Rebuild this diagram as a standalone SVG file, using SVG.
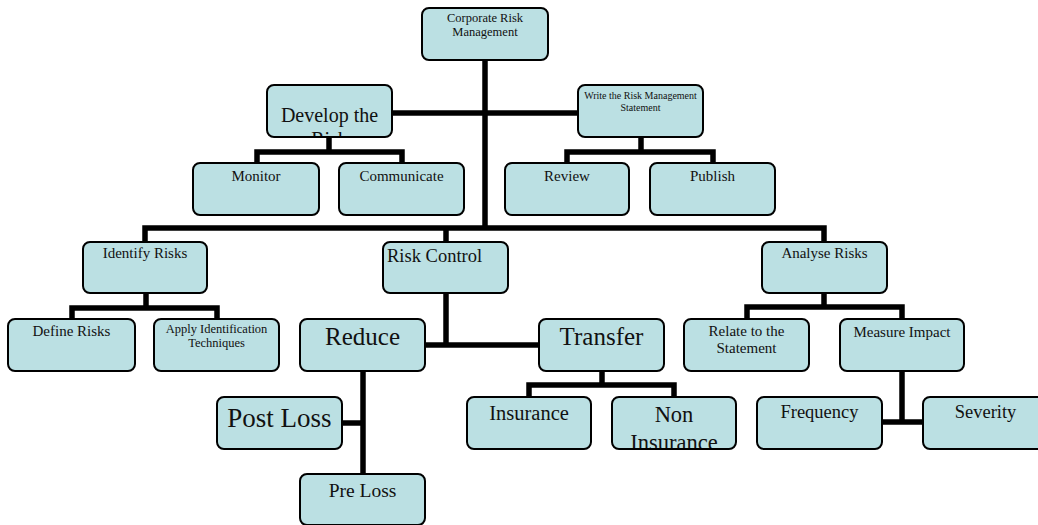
<svg xmlns="http://www.w3.org/2000/svg" width="1038" height="525" viewBox="0 0 1038 525">
<style>
.box{fill:#bbe0e3;stroke:#000;stroke-width:2}
.t{font-family:"Liberation Serif","Times New Roman",serif;fill:#111;text-anchor:middle}
.conn path{fill:none;stroke:#000;stroke-width:5.5;stroke-linejoin:miter;stroke-linecap:butt}
</style>
<defs>
<clipPath id="cDev"><rect x="268" y="86" width="123" height="50" rx="6"/></clipPath>
<clipPath id="cNon"><rect x="613" y="398" width="122" height="50" rx="6"/></clipPath>
</defs>
<g id="connectors" class="conn">
<path d="M485 60 V228"/>
<path d="M145 242 V228 H824 V242"/>
<path d="M446 228 V242"/>
<path d="M392 113 H578"/>
<path d="M329 137 V152"/>
<path d="M257 163 V152 H402 V163"/>
<path d="M641 137 V152"/>
<path d="M567 163 V152 H713 V163"/>
<path d="M146 293 V308"/>
<path d="M72 319 V308 H217 V319"/>
<path d="M824 293 V307"/>
<path d="M747 319 V307 H902 V319"/>
<path d="M446 293 V345"/>
<path d="M425 345 H539"/>
<path d="M602 371 V385"/>
<path d="M529 397 V385 H674 V397"/>
<path d="M363 371 V474"/>
<path d="M342 423 H363"/>
<path d="M902 371 V422"/>
<path d="M882 422 H923"/>
</g>
<g id="corp"><rect class="box" x="422" y="8" width="126" height="52" rx="7"/><text class="t" font-size="12.5" x="485" y="22">Corporate Risk</text><text class="t" font-size="12.5" x="485" y="36">Management</text></g>
<g id="develop"><rect class="box" x="267" y="85" width="125" height="52" rx="7"/><g clip-path="url(#cDev)"><text class="t" font-size="20" x="329.5" y="122">Develop the</text><text class="t" font-size="20" x="329.5" y="146">Risk</text></g></g>
<g id="write"><rect class="box" x="578" y="85" width="125" height="52" rx="7"/><text class="t" font-size="10" x="640.5" y="99">Write the Risk Management</text><text class="t" font-size="10" x="640.5" y="111">Statement</text></g>
<g id="monitor"><rect class="box" x="193" y="163" width="126" height="52" rx="7"/><text class="t" font-size="15" x="256" y="181">Monitor</text></g>
<g id="communicate"><rect class="box" x="339" y="163" width="125" height="52" rx="7"/><text class="t" font-size="15" x="401.5" y="181">Communicate</text></g>
<g id="review"><rect class="box" x="505" y="163" width="124" height="52" rx="7"/><text class="t" font-size="15" x="567" y="181">Review</text></g>
<g id="publish"><rect class="box" x="650" y="163" width="125" height="52" rx="7"/><text class="t" font-size="15" x="712.5" y="181">Publish</text></g>
<g id="identify"><rect class="box" x="83" y="242" width="124" height="51" rx="7"/><text class="t" font-size="15" x="145" y="258">Identify Risks</text></g>
<g id="riskcontrol"><rect class="box" x="383" y="242" width="125" height="51" rx="7"/><text class="t" font-size="18.5" x="387" y="262" text-anchor="start" style="text-anchor:start">Risk Control</text></g>
<g id="analyse"><rect class="box" x="762" y="242" width="125" height="51" rx="7"/><text class="t" font-size="15" x="824.5" y="258">Analyse Risks</text></g>
<g id="define"><rect class="box" x="8" y="319" width="127" height="52" rx="7"/><text class="t" font-size="15" x="71.5" y="336">Define Risks</text></g>
<g id="apply"><rect class="box" x="154" y="319" width="125" height="52" rx="7"/><text class="t" font-size="12.5" x="216.5" y="333">Apply Identification</text><text class="t" font-size="12.5" x="216.5" y="347">Techniques</text></g>
<g id="reduce"><rect class="box" x="300" y="319" width="125" height="52" rx="7"/><text class="t" font-size="25" x="362.5" y="345">Reduce</text></g>
<g id="transfer"><rect class="box" x="539" y="319" width="125" height="52" rx="7"/><text class="t" font-size="25" x="601.5" y="345">Transfer</text></g>
<g id="relate"><rect class="box" x="684" y="319" width="125" height="52" rx="7"/><text class="t" font-size="15" x="746.5" y="336">Relate to the</text><text class="t" font-size="15" x="746.5" y="353">Statement</text></g>
<g id="measure"><rect class="box" x="840" y="319" width="124" height="52" rx="7"/><text class="t" font-size="15" x="902" y="337">Measure Impact</text></g>
<g id="postloss"><rect class="box" x="217" y="397" width="125" height="52" rx="7"/><text class="t" font-size="27" x="279.5" y="427">Post Loss</text></g>
<g id="insurance"><rect class="box" x="467" y="397" width="124" height="52" rx="7"/><text class="t" font-size="20.5" x="529" y="420">Insurance</text></g>
<g id="noninsurance"><rect class="box" x="612" y="397" width="124" height="52" rx="7"/><g clip-path="url(#cNon)"><text class="t" font-size="22.5" x="674" y="422">Non</text><text class="t" font-size="22.5" x="674" y="450">Insurance</text></g></g>
<g id="frequency"><rect class="box" x="757" y="397" width="125" height="52" rx="7"/><text class="t" font-size="18.5" x="819.5" y="418">Frequency</text></g>
<g id="severity"><rect class="box" x="923" y="397" width="125" height="52" rx="7"/><text class="t" font-size="18.5" x="985.5" y="418">Severity</text></g>
<g id="preloss"><rect class="box" x="300" y="474" width="125" height="51" rx="7"/><text class="t" font-size="19.5" x="362.5" y="497">Pre Loss</text></g>
</svg>
